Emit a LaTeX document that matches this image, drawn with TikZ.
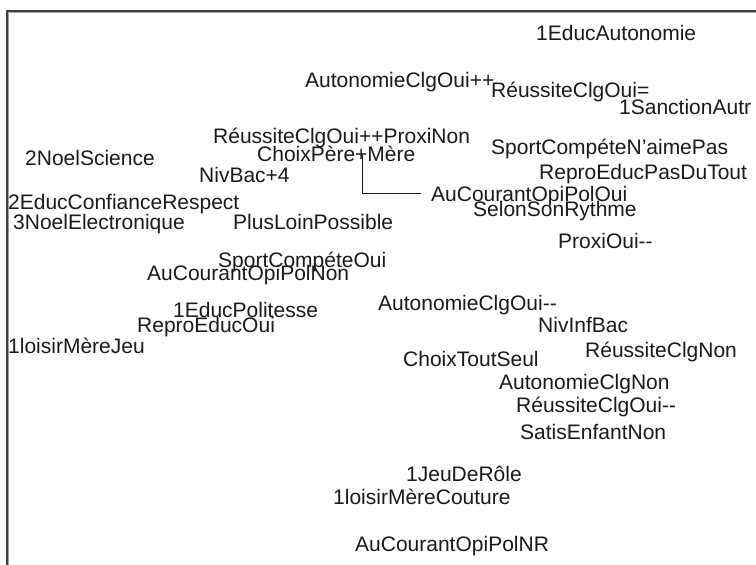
\documentclass[tikz,border=0pt]{standalone}
\usepackage{fontspec}
\setmainfont{Liberation Sans}
\definecolor{frameDark}{HTML}{404040}
\definecolor{frameLight}{HTML}{A0A0A0}
\definecolor{inkText}{HTML}{1A1A1A}
% two plain hyphens, no en-dash ligature
\newcommand{\dblhyph}{-{}-}
\tikzset{
  lbl/.style={anchor=base west, inner sep=0pt, text=inkText,
    font=\fontsize{21}{21}\selectfont},
  leader/.style={draw=inkText, line width=1pt}
}
\begin{document}
\begin{tikzpicture}[x=1pt,y=-1pt]
\useasboundingbox (0,0) rectangle (756,565);
\clip (0,0) rectangle (756,565);
\fill[white] (0,0) rectangle (756,565);
% sunken frame along top and left edges
\fill[frameDark] (6,9.5) rectangle (756,11.5);
\fill[frameDark] (5.5,9.5) rectangle (7.5,565);
\fill[frameLight] (7.5,11.5) rectangle (756,12.5);
\fill[frameLight] (7.5,11.5) rectangle (8.5,565);

% category labels (left edge, baseline)
\node[lbl] (educauto)   at (536,40)  {1EducAutonomie};
\node[lbl] (autoclgpp)  at (305,87)  {AutonomieClgOui++};
\node[lbl] (reusseq)    at (491,97)  {RéussiteClgOui=};
\node[lbl] (sanction)   at (619,114) {1SanctionAutr};
\node[lbl] (reusspp)    at (213,143) {RéussiteClgOui++ProxiNon};
\node[lbl] (sportnon)   at (491,154) {SportCompéteN{\char"0027}aimePas};
\node[lbl] (choixpm)    at (257,161) {ChoixPère+Mère};
\node[lbl] (noelsci)    at (25,165)  {2NoelScience};
\node[lbl] (reprotout)  at (539,179) {ReproEducPasDuTout};
\node[lbl] (nivbac)     at (199,182) {NivBac+4};
\node[lbl] (aupol)      at (431,201) {AuCourantOpiPolOui};
\node[lbl] (educconf)   at (8,209)   {2EducConfianceRespect};
\node[lbl] (rythme)     at (473,216) {SelonSonRythme};
\node[lbl] (noelelec)   at (13,229)  {3NoelElectronique};
\node[lbl] (plusloin)   at (233,229) {PlusLoinPossible};
\node[lbl] (proxioui)   at (558,248) {ProxiOui\dblhyph};
\node[lbl] (sportoui)   at (218,267) {SportCompéteOui};
\node[lbl] (aupolnon)   at (147,280) {AuCourantOpiPolNon};
\node[lbl] (autoclgmm)  at (378,310) {AutonomieClgOui\dblhyph};
\node[lbl] (politesse)  at (173,317) {1EducPolitesse};
\node[lbl] (reprooui)   at (137,332) {ReproEducOui};
\node[lbl] (nivinf)     at (538,332) {NivInfBac};
\node[lbl] (loisirjeu)  at (8,353)   {1loisirMèreJeu};
\node[lbl] (reussnon)   at (585,357) {RéussiteClgNon};
\node[lbl] (toutseul)   at (403,366) {ChoixToutSeul};
\node[lbl] (autoclgnon) at (499,389) {AutonomieClgNon};
\node[lbl] (reussmm)    at (516,412) {RéussiteClgOui\dblhyph};
\node[lbl] (satisnon)   at (520,439) {SatisEnfantNon};
\node[lbl] (jeurole)    at (406,481) {1JeuDeRôle};
\node[lbl] (couture)    at (333,504) {1loisirMèreCouture};
\node[lbl] (aupolnr)    at (355,551) {AuCourantOpiPolNR};

% leader from the point position to its displaced label
\coordinate (ptmark) at (362,155);
\coordinate (bend) at (362,193);
\draw[leader] (ptmark) -- (bend) -- ([xshift=-10pt]bend -| aupol.west);
\end{tikzpicture}
\end{document}
